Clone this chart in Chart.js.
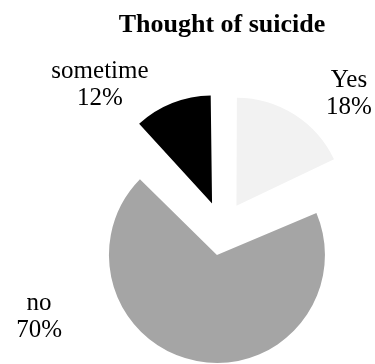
<!DOCTYPE html>
<html><head><meta charset="utf-8">
<script src="https://cdn.jsdelivr.net/npm/chart.js@4/dist/chart.umd.min.js"></script>
<style>html,body{margin:0;padding:0;background:#fff;}#wrap{width:375px;height:364px;position:relative;}</style>
</head><body><div id="wrap"><canvas id="c"></canvas></div>
<script>
const chartTitle = 'Thought of suicide';
const categories = ['Yes', 'no', 'sometime'];
const percentValues = [18, 70, 12];

// Chart.js v4 enlarges an offset slice's radius by (offset/4)*(1-sin(circ)); undo that
// so every exploded slice keeps the same radius, as in the original.
const equalRadius = {
  id: 'equalRadius',
  afterDatasetsUpdate(chart) {
    const meta = chart.getDatasetMeta(0);
    meta.data.forEach((arc) => {
      const off = (arc.options.offset || 0) / 4;
      const fix = 1 - Math.sin(Math.min(Math.PI, arc.circumference || 0));
      arc.outerRadius = meta.controller.outerRadius - off * fix;
    });
  }
};

const sliceLabels = {
  id: 'sliceLabels',
  afterDatasetsDraw(chart, args, opts) {
    const meta = chart.getDatasetMeta(0);
    const R = meta.controller.outerRadius;
    const ctx = chart.ctx;
    ctx.save();
    ctx.font = opts.font;
    ctx.fillStyle = '#000';
    ctx.textAlign = 'center';
    ctx.textBaseline = 'alphabetic';
    meta.data.forEach((arc, i) => {
      const p = opts.anchors[i];
      const x = arc.x + p[0] * R;
      const y = arc.y + p[1] * R;
      ctx.fillText(String(chart.data.labels[i]), x, y - opts.lineGap / 2);
      ctx.fillText(chart.data.datasets[0].data[i] + '%', x, y + opts.lineGap / 2);
    });
    ctx.restore();
  }
};

new Chart(document.getElementById('c'), {
  type: 'pie',
  data: {
    labels: categories,
    datasets: [{
      data: percentValues,
      backgroundColor: ['#f2f2f2', '#a5a5a5', '#000000'],
      borderWidth: 0,
      offset: 108,
      hoverOffset: 0
    }]
  },
  plugins: [equalRadius, sliceLabels],
  options: {
    responsive: true,
    maintainAspectRatio: false,
    animation: false,
    events: [],
    radius: 108,
    layout: { padding: { left: 69, right: 0, top: 0, bottom: 0 } },
    plugins: {
      legend: { display: false },
      tooltip: { enabled: false },
      title: {
        display: true,
        text: chartTitle,
        color: '#000',
        font: { family: 'Liberation Serif', size: 26, weight: 'bold' },
        padding: { top: 9.6, bottom: 52.2 }
      },
      sliceLabels: {
        font: '25px "Liberation Serif"',
        lineGap: 27,
        anchors: [[1.176, -1.185], [-1.694, 0.884], [-1.130, -1.273]]
      }
    }
  }
});
</script></body></html>
